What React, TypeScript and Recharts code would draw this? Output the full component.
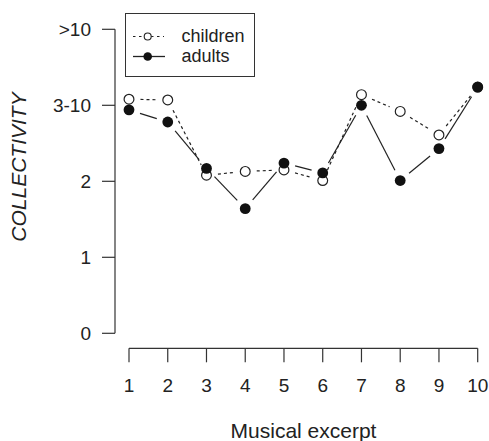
import React from 'react';
import { LineChart, Line, XAxis, YAxis } from 'recharts';

const excerpts = [1, 2, 3, 4, 5, 6, 7, 8, 9, 10];
const childrenScores = [3.08, 3.07, 2.08, 2.13, 2.15, 2.01, 3.14, 2.92, 2.61, 3.24];
const adultScores = [2.94, 2.78, 2.17, 1.64, 2.24, 2.11, 3.0, 2.01, 2.43, 3.24];
const yTicks = [0, 1, 2, 3, 4];
const yTickLabels = ['0', '1', '2', '3-10', '>10'];

const data = excerpts.map((e, i) => ({ excerpt: e, children: childrenScores[i], adults: adultScores[i] }));

const FONT = '"Liberation Sans", Arial, Helvetica, sans-serif';
const INK = '#222';
const GAP = 11.5;

// R type="b" look: each dot draws the segment back to the previous point, with a gap round both markers
const seen: Record<string, { x: number; y: number }[]> = { children: [], adults: [] };

const makeDot = (series: 'children' | 'adults') => (props: any) => {
    const { cx, cy, index } = props;
    seen[series][index] = { x: cx, y: cy };
    const prev = index > 0 ? seen[series][index - 1] : null;
    let seg = null;
    if (prev && Number.isFinite(prev.x) && Number.isFinite(cx)) {
        const dx = cx - prev.x, dy = cy - prev.y;
        const d = Math.sqrt(dx * dx + dy * dy);
        if (d > GAP * 2) {
            const ux = dx / d, uy = dy / d;
            seg = (
                <line
                    x1={prev.x + ux * GAP} y1={prev.y + uy * GAP}
                    x2={cx - ux * GAP} y2={cy - uy * GAP}
                    stroke={INK} strokeWidth={1.2}
                    strokeDasharray={series === 'children' ? '3 3' : undefined}
                />
            );
        }
    }
    return (
        <g key={`${series}-${index}`}>
            {seg}
            {series === 'children'
                ? <circle cx={cx} cy={cy} r={4.9} fill="#fff" stroke={INK} strokeWidth={1.2} />
                : <circle cx={cx} cy={cy} r={5.4} fill="#111" />}
        </g>
    );
};

const LegendBox = () => (
    <svg width={130} height={64} style={{ position: 'absolute', left: 125, top: 13, overflow: 'visible' }}>
        <rect x={0.5} y={0.5} width={129} height={63} fill="#fff" stroke="#333" strokeWidth={1} />
        <line x1={8} y1={23.5} x2={39} y2={23.5} stroke={INK} strokeWidth={1.1} strokeDasharray="2.5 3.5" />
        <circle cx={22.7} cy={23.5} r={3.5} fill="#fff" stroke={INK} strokeWidth={1.1} />
        <text x={56.5} y={28.5} fontSize={18} fill={INK} fontFamily={FONT}>children</text>
        <line x1={8} y1={43.5} x2={40} y2={43.5} stroke={INK} strokeWidth={1.3} />
        <circle cx={22.7} cy={43.5} r={4.3} fill="#111" />
        <text x={56.5} y={48.5} fontSize={18} fill={INK} fontFamily={FONT}>adults</text>
    </svg>
);

export default function App() {
    return (
        <div style={{ position: 'absolute', left: 0, top: 0, width: 489, height: 441, background: '#fff' }}>
            <LineChart width={489} height={441} data={data} margin={{ top: 29.3, right: 11.3, bottom: 0, left: 55 }}>
                <XAxis
                    dataKey="excerpt" type="number" domain={[1, 10]} ticks={excerpts}
                    padding={{ left: 14, right: 0 }} height={92.7}
                    axisLine={{ stroke: '#333', strokeWidth: 1.2, strokeDasharray: '0 14 348.7 1000' }}
                    tickLine={{ stroke: '#333', strokeWidth: 1.2 }} tickSize={14} tickMargin={16}
                    tick={{ fontSize: 19, fill: INK, fontFamily: FONT }}
                    label={{
                        content: () => (
                            <text x={303.5} y={437.5} textAnchor="middle" fontSize={21} fill={INK} fontFamily={FONT}>
                                Musical excerpt
                            </text>
                        ),
                    }}
                />
                <YAxis
                    type="number" domain={[0, 4]} ticks={yTicks} width={60}
                    padding={{ top: 0, bottom: 15 }}
                    tickFormatter={(v: number) => yTickLabels[v]}
                    axisLine={{ stroke: '#333', strokeWidth: 1.2, strokeDasharray: '304 1000' }}
                    tickLine={{ stroke: '#333', strokeWidth: 1.2 }} tickSize={13} tickMargin={11}
                    tick={{ fontSize: 19, fill: INK, fontFamily: FONT }}
                    label={{
                        content: () => (
                            <text x={26} y={167} transform="rotate(-90 26 167)" textAnchor="middle"
                                fontSize={21} fontStyle="italic" fill={INK} fontFamily={FONT}>
                                COLLECTIVITY
                            </text>
                        ),
                    }}
                />
                <Line dataKey="children" stroke="none" dot={makeDot('children')} activeDot={false} isAnimationActive={false} />
                <Line dataKey="adults" stroke="none" dot={makeDot('adults')} activeDot={false} isAnimationActive={false} />
            </LineChart>
            <LegendBox />
        </div>
    );
}
